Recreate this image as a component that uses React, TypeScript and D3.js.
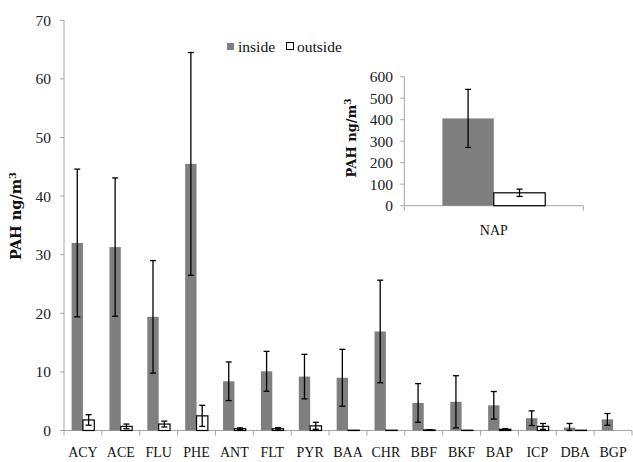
import React from "react";
import * as d3 from "d3";

const categories = ["ACY", "ACE", "FLU", "PHE", "ANT", "FLT", "PYR", "BAA", "CHR", "BBF", "BKF", "BAP", "ICP", "DBA", "BGP"];
const insideVals = [32, 31.3, 19.4, 45.5, 8.4, 10.1, 9.2, 9.0, 16.9, 4.7, 4.9, 4.3, 2.1, 0.5, 1.9];
const insideErr = [12.6, 11.8, 9.6, 19, 3.3, 3.4, 3.8, 4.85, 8.75, 3.3, 4.45, 2.35, 1.25, 0.7, 1.0];
const outsideVals = [1.8, 0.7, 1.1, 2.5, 0.3, 0.3, 0.8, 0.05, 0.05, 0.1, 0.05, 0.2, 0.7, 0.05, 0];
const outsideErr = [0.9, 0.4, 0.5, 1.8, 0.15, 0.2, 0.6, 0, 0, 0.05, 0, 0.1, 0.5, 0, 0];
const yTicks = [0, 10, 20, 30, 40, 50, 60, 70];

const insetCategories = ["NAP"];
const insetInside = [406];
const insetInsideErr = [135];
const insetOutside = [60];
const insetOutsideErr = [17];
const insetTicks = [0, 100, 200, 300, 400, 500, 600];

const series = ["inside", "outside"];
const FONT = "'Liberation Serif', 'Times New Roman', serif";
const BOLDFONT = "'DejaVu Serif', serif";
const AXIS = "#a6a6a6";
const GRAY = "#7f7f7f";

function ErrorBar({ x, y1, y2, cap }: { x: number; y1: number; y2: number; cap: number }) {
  return (
    <g stroke="#000" strokeWidth={1.3}>
      <line x1={x} x2={x} y1={y1} y2={y2} />
      <line x1={x - cap} x2={x + cap} y1={y1} y2={y1} />
      <line x1={x - cap} x2={x + cap} y1={y2} y2={y2} />
    </g>
  );
}

export default function App() {
  const W = 633, H = 462;
  const x = d3.scaleBand<string>().domain(categories).range([64, 632]).paddingInner(0).paddingOuter(0);
  const xs = d3.scaleBand<string>().domain(series).range([0, x.bandwidth()]).paddingInner(0).paddingOuter(0.67);
  const y = d3.scaleLinear().domain([0, 70]).range([430.5, 20.3]);

  const ix = d3.scaleBand<string>().domain(insetCategories).range([404.3, 583.3]);
  const ixs = d3.scaleBand<string>().domain(series).range([0, ix.bandwidth()]).paddingInner(0).paddingOuter(0.74);
  const iy = d3.scaleLinear().domain([0, 600]).range([205.7, 76.7]);

  const boundaries = categories.map((c) => x(c)!).concat([632]);

  return (
    <svg width={W} height={H} style={{ position: "absolute", left: 0, top: 0, background: "#fff" }} fontFamily={FONT}>
      <rect width={W} height={H} fill="#fff" />
      {/* main axes */}
      <line x1={64} x2={64} y1={y(70)} y2={y(0)} stroke={AXIS} />
      <line x1={64} x2={632} y1={y(0)} y2={y(0)} stroke={AXIS} />
      {yTicks.map((t) => (
        <g key={t}>
          <line x1={60} x2={64} y1={y(t)} y2={y(t)} stroke={AXIS} />
          <text x={51} y={y(t)} dy="0.35em" textAnchor="end" fontSize={15.5} fill="#222">{t}</text>
        </g>
      ))}
      {boundaries.map((b, i) => (
        <line key={i} x1={b} x2={b} y1={y(0)} y2={y(0) + 5} stroke={AXIS} />
      ))}
      {categories.map((c) => (
        <text key={c} x={x(c)! + x.bandwidth() / 2} y={452} dy="0.35em" textAnchor="middle" fontSize={14} fill="#111">{c}</text>
      ))}
      {/* bars */}
      {categories.map((c, i) => {
        const xi = x(c)! + xs("inside")!;
        const xo = x(c)! + xs("outside")!;
        const bw = xs.bandwidth();
        return (
          <g key={c}>
            <rect x={xi} y={y(insideVals[i])} width={bw} height={y(0) - y(insideVals[i])} fill={GRAY} />
            {outsideVals[i] > 0 && (
              <rect x={xo} y={y(outsideVals[i])} width={bw} height={y(0) - y(outsideVals[i])} fill="#fff" stroke="#000" strokeWidth={1.2} />
            )}
          </g>
        );
      })}
      {categories.map((c, i) => {
        const bw = xs.bandwidth();
        const xi = x(c)! + xs("inside")! + bw / 2;
        const xo = x(c)! + xs("outside")! + bw / 2;
        return (
          <g key={c + "e"}>
            <ErrorBar x={xi} y1={y(insideVals[i] + insideErr[i])} y2={y(Math.max(0, insideVals[i] - insideErr[i]))} cap={3} />
            {outsideErr[i] > 0 && (
              <ErrorBar x={xo} y1={y(outsideVals[i] + outsideErr[i])} y2={y(Math.max(0, outsideVals[i] - outsideErr[i]))} cap={3} />
            )}
          </g>
        );
      })}
      {/* main y label */}
      <text transform="translate(21,216) rotate(-90)" textAnchor="middle" fontFamily={BOLDFONT} fontSize={14.5} fontWeight="bold" fill="#111">
        PAH ng/m<tspan dy={-5} fontSize={10}>3</tspan>
      </text>
      {/* legend */}
      <rect x={227} y={43} width={7} height={7} fill={GRAY} />
      <text x={238} y={47} dy="0.35em" fontSize={15.5} fill="#111">inside</text>
      <rect x={286.5} y={42.5} width={7} height={7} fill="#fff" stroke="#000" strokeWidth={1} />
      <text x={297} y={47} dy="0.35em" fontSize={15.5} fill="#111">outside</text>

      {/* inset */}
      <line x1={404.3} x2={404.3} y1={iy(600)} y2={iy(0)} stroke={AXIS} />
      <line x1={404.3} x2={583.3} y1={iy(0)} y2={iy(0)} stroke={AXIS} />
      {insetTicks.map((t) => (
        <g key={t}>
          <line x1={400.3} x2={404.3} y1={iy(t)} y2={iy(t)} stroke={AXIS} />
          <text x={393} y={iy(t)} dy="0.35em" textAnchor="end" fontSize={15.5} fill="#222">{t}</text>
        </g>
      ))}
      <line x1={404.3} x2={404.3} y1={iy(0)} y2={iy(0) + 5} stroke={AXIS} />
      <line x1={583.3} x2={583.3} y1={iy(0)} y2={iy(0) + 5} stroke={AXIS} />
      {insetCategories.map((c, i) => {
        const bw = ixs.bandwidth();
        const xi = ix(c)! + ixs("inside")!;
        const xo = ix(c)! + ixs("outside")!;
        return (
          <g key={c}>
            <rect x={xi} y={iy(insetInside[i])} width={bw} height={iy(0) - iy(insetInside[i])} fill={GRAY} />
            <rect x={xo} y={iy(insetOutside[i])} width={bw} height={iy(0) - iy(insetOutside[i])} fill="#fff" stroke="#000" strokeWidth={1.2} />
            <ErrorBar x={xi + bw / 2} y1={iy(insetInside[i] + insetInsideErr[i])} y2={iy(insetInside[i] - insetInsideErr[i])} cap={3} />
            <ErrorBar x={xo + bw / 2} y1={iy(insetOutside[i] + insetOutsideErr[i])} y2={iy(insetOutside[i] - insetOutsideErr[i])} cap={3} />
            <text x={ix(c)! + ix.bandwidth() / 2} y={230} dy="0.35em" textAnchor="middle" fontSize={14} fill="#111">{c}</text>
          </g>
        );
      })}
      <text transform="translate(356,138) rotate(-90)" textAnchor="middle" fontFamily={BOLDFONT} fontSize={13} fontWeight="bold" fill="#111">
        PAH ng/m<tspan dy={-5} fontSize={9}>3</tspan>
      </text>
    </svg>
  );
}
